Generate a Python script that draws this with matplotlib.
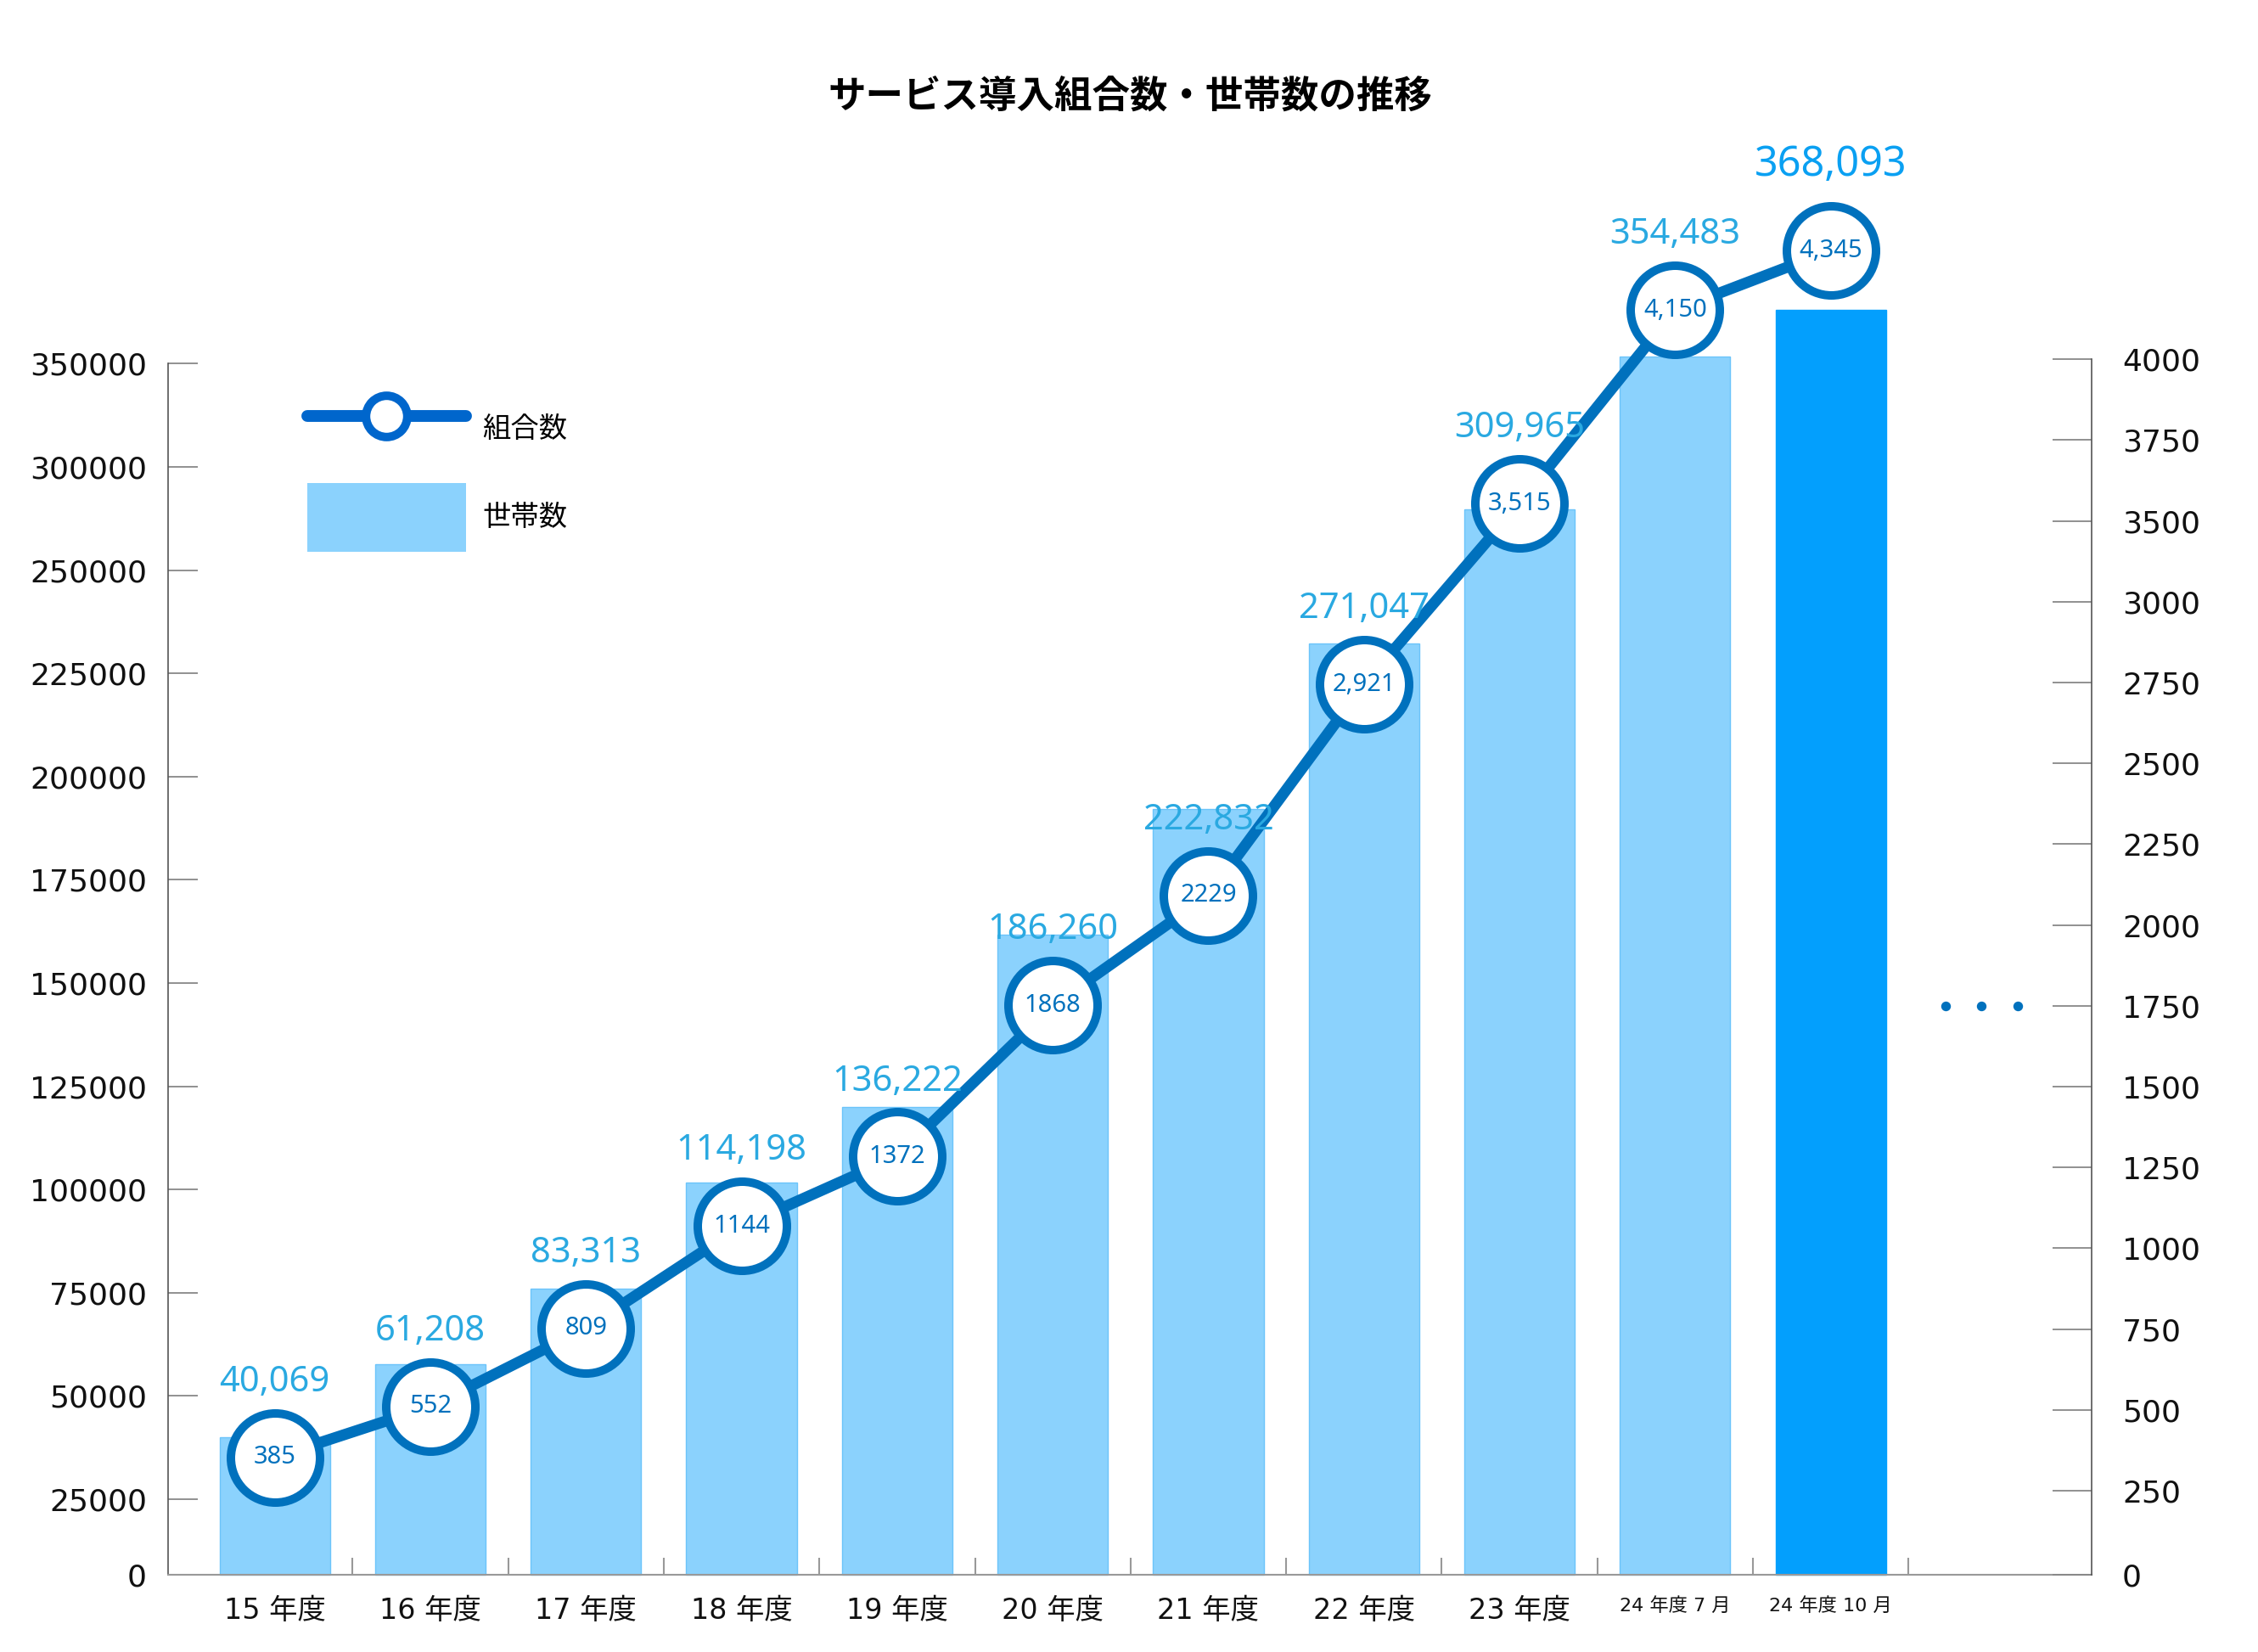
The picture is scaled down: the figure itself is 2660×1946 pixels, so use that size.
import matplotlib
matplotlib.use('Agg')
import matplotlib.pyplot as plt
from matplotlib.lines import Line2D
from matplotlib.patches import Patch

plt.rcParams['font.family'] = ['DejaVu Sans', 'Noto Sans CJK JP']

# ---------------- data ----------------
title = 'サービス導入組合数・世帯数の推移'
categories = ['15 年度', '16 年度', '17 年度', '18 年度', '19 年度', '20 年度',
              '21 年度', '22 年度', '23 年度', '24 年度 7 月', '24 年度 10 月']
households = [40069, 61208, 83313, 114198, 136222, 186260, 222832,
              271047, 309965, 354483, 368093]
unions = [385, 552, 809, 1144, 1372, 1868, 2229, 2921, 3515, 4150, 4345]
union_labels = ['385', '552', '809', '1144', '1372', '1868', '2229',
                '2,921', '3,515', '4,150', '4,345']
left_tick_labels = ['0', '25000', '50000', '75000', '100000', '125000', '150000',
                    '175000', '200000', '225000', '250000', '300000', '350000']
right_tick_labels = ['0', '250', '500', '750', '1000', '1250', '1500', '1750',
                     '2000', '2250', '2500', '2750', '3000', '3500', '3750', '4000']
legend_labels = ['組合数', '世帯数']

# ---------------- style ----------------
BAR = '#8bd2fd'
BAR_HI = '#039ffd'
LINE = '#0071bd'
LAB = '#2aa9e1'
LAB_HI = '#0aa0f2'
NUM_FONT = ['Noto Sans', 'DejaVu Sans']

W, H, DPI = 2660, 1946, 100
fig = plt.figure(figsize=(W / DPI, H / DPI), dpi=DPI)

ax_l, ax_r = 198, 2464
base_px, top_px = 1855, 250
ax_h = base_px - top_px
ax = fig.add_axes([ax_l / W, (H - base_px) / H, (ax_r - ax_l) / W, ax_h / H])
ax2 = ax.twinx()

bar_scale = 4.048e-3   # px per household
line_scale = 0.359     # px per union
ax.set_ylim(0, ax_h / bar_scale)
ax2.set_ylim(0, ax_h / line_scale)

pitch = 183.3
x0 = -0.5 - 34 / pitch
ax.set_xlim(x0, x0 + (ax_r - ax_l) / pitch)

x = list(range(len(categories)))
colors = [BAR] * (len(x) - 1) + [BAR_HI]
edges = ['#6cc4fa'] * (len(x) - 1) + [BAR_HI]
ax.bar(x, households, width=0.71, color=colors, edgecolor=edges, linewidth=1,
       zorder=2, clip_on=False)

ax2.plot(x, unions, color=LINE, lw=9.4, marker='o', ms=75.6, mfc='white',
         mec=LINE, mew=7.2, zorder=3, clip_on=False)

for i, (u, lbl) in enumerate(zip(unions, union_labels)):
    ax2.text(i, u, lbl, ha='center', va='center', fontsize=21, color=LINE,
             family=NUM_FONT, zorder=5)

for i, (u, v) in enumerate(zip(unions, households)):
    last = i == len(x) - 1
    ax2.annotate(f'{v:,}', xy=(i, u), xytext=(0, 73 if last else 64),
                 textcoords='offset points', ha='center', va='center',
                 fontsize=35 if last else 30, color=LAB_HI if last else LAB,
                 family=NUM_FONT, zorder=5, annotation_clip=False)

# ---------------- axes ----------------
left_tick_px = [0, 89] + [89 + 121.6 * k for k in range(1, len(left_tick_labels) - 1)]
right_tick_px = [0, 99] + [99 + 95.2 * k for k in range(1, len(right_tick_labels) - 1)]
ax.set_yticks([p / bar_scale for p in left_tick_px], left_tick_labels)
ax2.set_yticks([p / line_scale for p in right_tick_px], right_tick_labels)

ax.tick_params(axis='y', direction='in', length=25, width=1.3, color='#888888',
               pad=18, labelsize=26, labelcolor='#111111')
ax2.tick_params(axis='y', direction='in', length=33, width=1.3, color='#888888',
                pad=26, labelsize=26, labelcolor='#111111')

ax.set_xticks(x, categories)
ax.set_xticks([i + 0.5 for i in x], minor=True)
ax.tick_params(axis='x', which='major', length=0, pad=19, labelsize=24,
               labelcolor='#111111')
ax.tick_params(axis='x', which='minor', direction='in', length=14.4, width=1.5,
               color='#999999')
for t in ax.get_xticklabels()[-2:]:
    t.set_fontsize(16)

ax.spines['top'].set_visible(False)
ax.spines['right'].set_visible(False)
ax.spines['left'].set_bounds(0, left_tick_px[-1] / bar_scale)
ax.spines['left'].set_color('#555555')
ax.spines['left'].set_linewidth(1.2)
ax.spines['bottom'].set_color('#999999')
ax.spines['bottom'].set_linewidth(1.5)
for s in ['left', 'top', 'bottom']:
    ax2.spines[s].set_visible(False)
ax2.spines['right'].set_bounds(0, right_tick_px[-1] / line_scale)
ax2.spines['right'].set_color('#555555')
ax2.spines['right'].set_linewidth(1.2)

# continuation dots in the empty slot
dot_y = right_tick_px[7] / line_scale
ax2.plot([10.74, 10.97, 11.2], [dot_y] * 3, 'o', ms=7.2, color=LINE,
         clip_on=False, zorder=4)

# ---------------- legend ----------------
h_line = Line2D([], [], color='#0066cc', lw=10, marker='o', ms=35, mfc='white',
                mec='#0066cc', mew=7.2, solid_capstyle='round')
h_bar = Patch(facecolor=BAR, edgecolor='none')
ax2.legend([h_line, h_bar], legend_labels, loc='upper left',
           bbox_to_anchor=(362 / W, 1 - 465 / H), bbox_transform=fig.transFigure,
           frameon=False, fontsize=24, handlelength=5.6, handleheight=3.36,
           handletextpad=0.6, labelspacing=0.705, borderpad=0, borderaxespad=0)

fig.text(1331 / W, 1 - 114 / H, title, ha='center', va='center', fontsize=32,
         fontweight='bold', family=['Noto Sans CJK JP', 'DejaVu Sans'])

fig.savefig('out.png', dpi=DPI)
